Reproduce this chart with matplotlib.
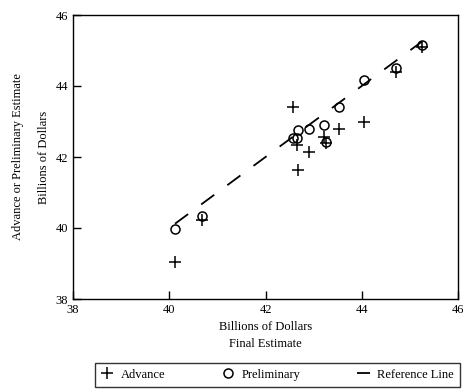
import matplotlib.pyplot as plt
import numpy as np

plt.rcParams['font.family'] = ['Liberation Serif', 'DejaVu Serif']

# final estimate (x) vs advance / preliminary estimates (y), billions of dollars
final = [40.12, 40.69, 42.58, 42.66, 42.68, 42.90, 43.22, 43.26, 43.53, 44.04, 44.71, 45.25]
advance = [39.04, 40.22, 43.41, 42.34, 41.63, 42.14, 42.56, 42.40, 42.79, 42.99, 44.40, 45.10]
preliminary = [39.98, 40.35, 42.54, 42.53, 42.76, 42.79, 42.90, 42.42, 43.42, 44.17, 44.50, 45.15]

ticks = [38, 40, 42, 44, 46]

fig = plt.figure(figsize=(4.64, 3.91), dpi=100)
ax = fig.add_axes([73/464, 92/391, 385/464, 284/391])

ax.plot(final, advance, linestyle='none', marker='+', ms=8, mew=1.1,
        color='black', label='Advance')
ax.plot(final, preliminary, linestyle='none', marker='o', ms=6.5, mew=1.1,
        mfc='none', color='black', label='Preliminary')
ref_x = np.array([min(final), max(final)])
ax.plot(ref_x, ref_x, color='black', lw=1.3, dashes=(9, 9),
        label='Reference Line')

ax.set_xlim(38, 46)
ax.set_ylim(38, 46)
ax.set_xticks(ticks)
ax.set_yticks(ticks)
ax.tick_params(direction='in', length=6, width=1, labelsize=9)
for sp in ax.spines.values():
    sp.set_linewidth(1)

ax.set_xlabel('Billions of Dollars\nFinal Estimate', fontsize=9, linespacing=1.5)
ax.set_ylabel('Advance or Preliminary Estimate\nBillions of Dollars', fontsize=9,
              linespacing=2.6)

leg = fig.legend(loc='lower left', bbox_to_anchor=(95/464, 4/391, 365/464, 25/391),
                 mode='expand', ncol=3, fontsize=9, frameon=True, fancybox=False,
                 handlelength=1.0, handletextpad=0.6, borderaxespad=0,
                 borderpad=0.5)
leg.get_frame().set_edgecolor('black')
leg.get_frame().set_linewidth(1)

fig.savefig('out.png', dpi=100)
